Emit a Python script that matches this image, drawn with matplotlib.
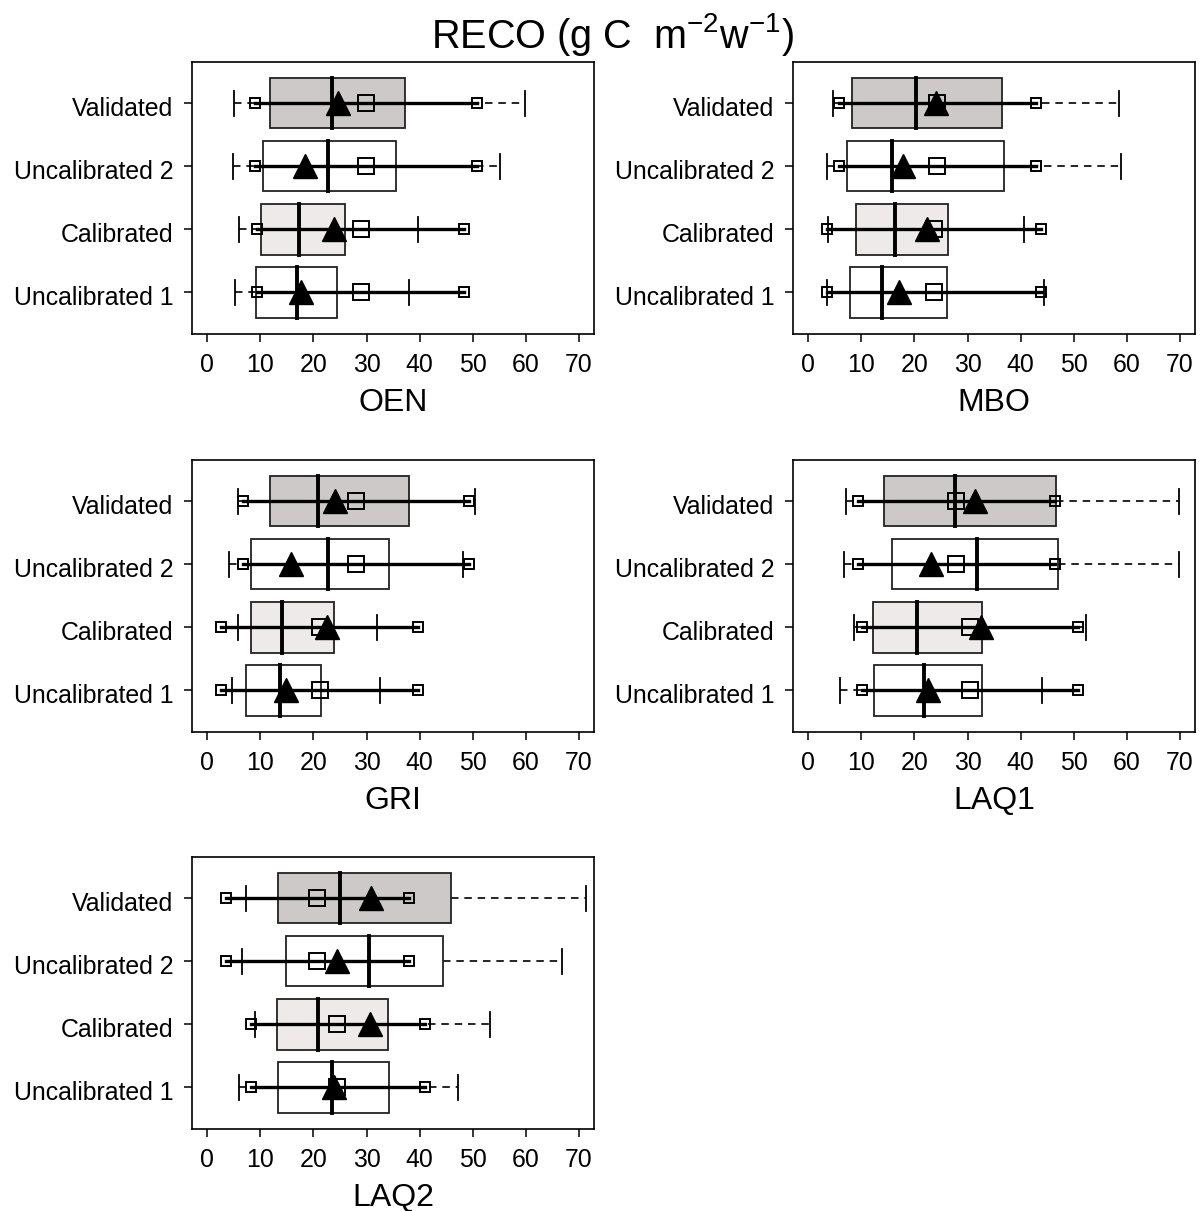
import numpy as np
import matplotlib.pyplot as plt
from matplotlib.transforms import ScaledTranslation

plt.rcParams['font.family'] = ['Liberation Sans', 'DejaVu Sans']
plt.rcParams['mathtext.fontset'] = 'custom'
plt.rcParams['mathtext.rm'] = 'Liberation Sans'
plt.rcParams['mathtext.it'] = 'Liberation Sans:italic'

sites = ['OEN', 'MBO', 'GRI', 'LAQ1', 'LAQ2']
runs = ['Uncalibrated 1', 'Calibrated', 'Uncalibrated 2', 'Validated']
run_colors = ['white', '#EEEAEA', 'white', '#CDC9C9']

# simulated distribution, one row per site, order of runs as above
whisk_lo = [[5.3, 6.0, 4.8, 5.1],
            [3.5, 3.8, 3.5, 4.7],
            [4.7, 5.7, 4.0, 5.7],
            [5.9, 8.6, 6.8, 7.1],
            [6.0, 8.9, 6.6, 7.2]]
q1 = [[9.2, 10.1, 10.4, 11.9],
      [7.9, 8.9, 7.3, 8.2],
      [7.2, 8.3, 8.3, 11.9],
      [12.4, 12.1, 15.7, 14.2],
      [13.4, 13.1, 14.9, 13.4]]
median = [[16.9, 17.3, 22.7, 23.5],
          [13.9, 16.3, 15.7, 20.2],
          [13.7, 14.1, 22.7, 20.8],
          [21.7, 20.5, 31.8, 27.6],
          [23.5, 20.8, 30.4, 25.0]]
q3 = [[24.4, 25.9, 35.5, 37.3],
      [26.2, 26.4, 36.8, 36.5],
      [21.5, 23.9, 34.3, 37.9],
      [32.7, 32.7, 47.0, 46.7],
      [34.3, 34.0, 44.4, 45.9]]
whisk_hi = [[38.0, 39.6, 55.1, 59.8],
            [44.3, 40.7, 58.8, 58.6],
            [32.5, 31.9, 48.2, 50.5],
            [44.0, 52.3, 69.9, 69.9],
            [47.3, 53.3, 66.7, 71.4]]
sim_mean = [[17.6, 23.9, 18.4, 24.7],
            [17.1, 22.4, 17.9, 24.0],
            [14.8, 22.6, 15.8, 24.1],
            [22.5, 32.5, 23.1, 31.4],
            [23.9, 30.7, 24.4, 30.9]]

# observations
obs_mean = [[28.9, 28.9, 29.8, 29.8],
            [23.7, 23.7, 24.3, 24.3],
            [21.2, 21.2, 28.0, 28.0],
            [30.4, 30.4, 27.9, 27.9],
            [24.5, 24.5, 20.7, 20.7]]
obs_lo = [[9.3, 9.3, 9.0, 9.0],
          [3.6, 3.6, 5.7, 5.7],
          [2.5, 2.5, 6.8, 6.8],
          [10.2, 10.2, 9.3, 9.3],
          [8.2, 8.2, 3.5, 3.5]]
obs_hi = [[48.3, 48.3, 50.7, 50.7],
          [43.8, 43.8, 42.8, 42.8],
          [39.7, 39.7, 49.2, 49.2],
          [50.7, 50.7, 46.5, 46.5],
          [41.0, 41.0, 37.9, 37.9]]

W, H = 1203, 1211
fig = plt.figure(figsize=(W / 100, H / 100), dpi=100)

lefts = [192.4, 793.4]
tops = [61.7, 459.7, 856.7]
w_px, h_px = 401.5, 272.2

y = np.arange(1, 5)
for i, site in enumerate(sites):
    col, row = i % 2, i // 2
    ax = fig.add_axes([lefts[col] / W, 1 - (tops[row] + h_px) / H, w_px / W, h_px / H])

    for j in range(4):
        yy = y[j]
        # dashed whiskers with caps
        ax.plot([whisk_lo[i][j], q1[i][j]], [yy, yy], color='black', lw=1.2, dashes=(4.5, 3.5), zorder=1)
        ax.plot([q3[i][j], whisk_hi[i][j]], [yy, yy], color='black', lw=1.2, dashes=(4.5, 3.5), zorder=1)
        for wv in (whisk_lo[i][j], whisk_hi[i][j]):
            ax.plot([wv, wv], [yy - 0.2, yy + 0.2], color='black', lw=1.3, zorder=1)

    ax.barh(y, np.array(q3[i]) - np.array(q1[i]), left=q1[i], height=0.8,
            color=run_colors, edgecolor='#222222', linewidth=1.3, zorder=2)

    for j in range(4):
        yy = y[j]
        ax.plot([median[i][j], median[i][j]], [yy - 0.4, yy + 0.4], color='black', lw=2.8, zorder=3)
        ax.plot([obs_lo[i][j], obs_hi[i][j]], [yy, yy], color='black', lw=2.4, zorder=4)

    ax.plot(obs_lo[i], y, 's', ms=6.5, mfc='none', mec='black', mew=1.4, zorder=5)
    ax.plot(obs_hi[i], y, 's', ms=6.5, mfc='none', mec='black', mew=1.4, zorder=5)
    ax.plot(obs_mean[i], y, 's', ms=12, mfc='none', mec='black', mew=1.4, zorder=5)
    ax.plot(sim_mean[i], y, '^', ms=17, color='black', zorder=6)

    ax.set_xlim(-2.8, 72.8)
    ax.set_ylim(0.34, 4.66)
    ax.set_xticks(range(0, 71, 10))
    ax.set_yticks(y, runs)
    ax.tick_params(length=5.8, width=1.1, labelsize=17.9, colors='black')
    ax.tick_params(axis='x', pad=8)
    ax.tick_params(axis='y', pad=8)
    down = ScaledTranslation(0, -3 / 100, fig.dpi_scale_trans)
    for lab in ax.get_yticklabels():
        lab.set_transform(lab.get_transform() + down)
    for sp in ax.spines.values():
        sp.set_linewidth(1.2)
    ax.annotate(site, xy=(0.5, 0), xycoords='axes fraction', xytext=(0, -49.5),
                textcoords='offset points', ha='center', va='center', fontsize=23)

fig.text(612 / W, 1 - 48 / H, r'RECO (g C  m$^{-2}$w$^{-1}$)', ha='center', va='baseline', fontsize=28.5)

fig.savefig('out.png', dpi=100)
